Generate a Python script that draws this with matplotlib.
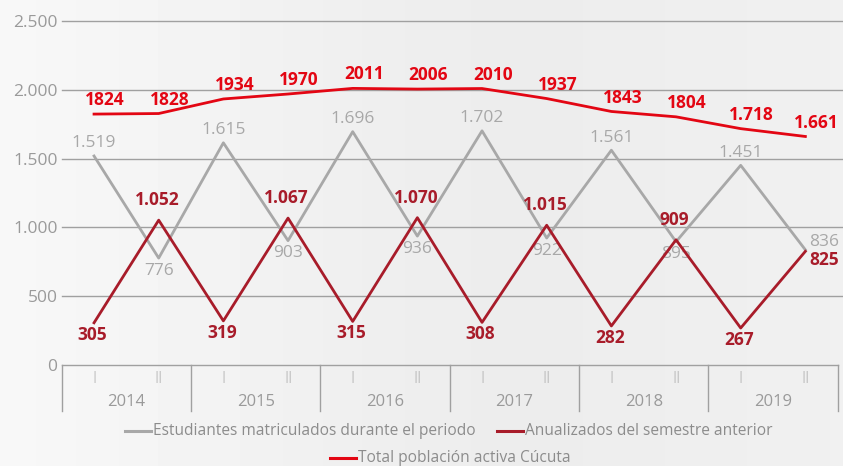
import matplotlib
matplotlib.use('Agg')
import matplotlib.pyplot as plt
from matplotlib.lines import Line2D
import numpy as np

plt.rcParams['font.family'] = ['Open Sans', 'DejaVu Sans']

years = ['2014', '2015', '2016', '2017', '2018', '2019']
semesters = ['I', 'II'] * 6
matriculados = [1519, 776, 1615, 903, 1696, 936, 1702, 922, 1561, 895, 1451, 836]
anualizados = [305, 1052, 319, 1067, 315, 1070, 308, 1015, 282, 909, 267, 825]
total = [1824, 1828, 1934, 1970, 2011, 2006, 2010, 1937, 1843, 1804, 1718, 1661]
lbl_matric = ['1.519', '776', '1.615', '903', '1.696', '936', '1.702', '922', '1.561', '895', '1.451', '836']
lbl_anual = ['305', '1.052', '319', '1.067', '315', '1.070', '308', '1.015', '282', '909', '267', '825']
lbl_total = ['1824', '1828', '1934', '1970', '2011', '2006', '2010', '1937', '1843', '1804', '1.718', '1.661']
yticks = [0, 500, 1000, 1500, 2000, 2500]
ytick_labels = ['0', '500', '1.000', '1.500', '2.000', '2.500']

GRAY = '#a8a8a8'
DARKRED = '#a81c2a'
RED = '#e30613'
TXT = '#9a9a9a'

W, H = 843, 466
fig = plt.figure(figsize=(W / 100, H / 100), dpi=100)
fig.patch.set_facecolor('#eeeeee')

# soft background gradient, lighter on the left
bg = fig.add_axes([0, 0, 1, 1], zorder=-10)
grad = np.linspace(0, 1, 256)
shade = 0.972 - 0.05 * np.clip(grad * 1.6, 0, 1) + 0.02 * np.clip(grad * 2 - 1, 0, 1)
bg.imshow(np.tile(shade, (2, 1)), cmap='gray', vmin=0, vmax=1, aspect='auto', extent=[0, 1, 0, 1])
bg.set_axis_off()

# axes in pixel coords
x0, x1 = 61.7, 837.7
ytop, ybot = 21.2, 364.7
ax = fig.add_axes([x0 / W, 1 - ybot / H, (x1 - x0) / W, (ybot - ytop) / H])
ax.patch.set_alpha(0)
ax.set_xlim(-0.5, 11.5)
ax.set_ylim(0, 2500)
for s in ax.spines.values():
    s.set_visible(False)
ax.set_xticks([])
ax.set_yticks(yticks)
ax.set_yticklabels(ytick_labels)
ax.tick_params(axis='y', length=0, pad=3, labelsize=12.5, labelcolor=TXT)

# gridlines (extend a bit past the right edge)
for v in yticks[1:]:
    ax.plot([-0.5, 11.56], [v, v], color='#a0a0a0', lw=1.0, clip_on=False, zorder=1)

x = np.arange(12)
ax.plot(x, matriculados, color=GRAY, lw=2.0, zorder=3)
ax.plot(x, anualizados, color=DARKRED, lw=2.0, zorder=4)
ax.plot(x, total, color=RED, lw=2.0, zorder=5)

# data labels
fs = 12.5
for i in range(12):
    if i == 11:
        ax.annotate(lbl_matric[i], (x[i], matriculados[i]), xytext=(3, 6), textcoords='offset points',
                    ha='left', va='center', fontsize=fs, color=GRAY)
        ax.annotate(lbl_anual[i], (x[i], anualizados[i]), xytext=(3, -6), textcoords='offset points',
                    ha='left', va='center', fontsize=fs, color=DARKRED, fontweight='bold')
    else:
        dy = 9 if i % 2 == 0 else -9
        ax.annotate(lbl_matric[i], (x[i], matriculados[i]), xytext=(0, dy), textcoords='offset points',
                    ha='center', va='center', fontsize=fs, color=GRAY)
        dy = -8.5 if i % 2 == 0 else 14.5
        ax.annotate(lbl_anual[i], (x[i], anualizados[i]), xytext=(-1, dy), textcoords='offset points',
                    ha='center', va='center', fontsize=fs, color=DARKRED, fontweight='bold')
    ax.annotate(lbl_total[i], (x[i], total[i]), xytext=(8, 10), textcoords='offset points',
                ha='center', va='center', fontsize=fs, color=RED, fontweight='bold')

# category box under the axis
trans = ax.get_xaxis_transform()
px = 1 / (ybot - ytop)
ax.plot([-0.5, 11.5], [0, 0], color='#a0a0a0', lw=1.0, transform=trans, clip_on=False)
for k in range(7):
    xb = -0.5 + 2 * k
    ax.plot([xb, xb], [0, -46.5 * px], color='#a0a0a0', lw=1.0, transform=trans, clip_on=False)
for i, s in enumerate(semesters):
    ax.text(x[i], -14.5 * px, s, transform=trans, ha='center', va='center', fontsize=12,
            color='#b0b0b0', fontweight='light')
for k, yr in enumerate(years):
    ax.text(2 * k + 0.5, -37 * px, yr, transform=trans, ha='center', va='center', fontsize=12,
            color=TXT)

# legend drawn by hand
def leg(xa, xb, yy, color, text):
    fig.add_artist(Line2D([xa / W, xb / W], [1 - yy / H, 1 - yy / H], color=color, lw=2.2))
    fig.text((xb + 2) / W, 1 - yy / H, text, ha='left', va='center', fontsize=11.2, color='#8c8c8c')

leg(125, 151, 431, GRAY, 'Estudiantes matriculados durante el periodo')
leg(497, 523, 431, DARKRED, 'Anualizados del semestre anterior')
leg(330, 356, 458, RED, 'Total población activa Cúcuta')

fig.savefig('out.png', dpi=100, facecolor=fig.get_facecolor())
